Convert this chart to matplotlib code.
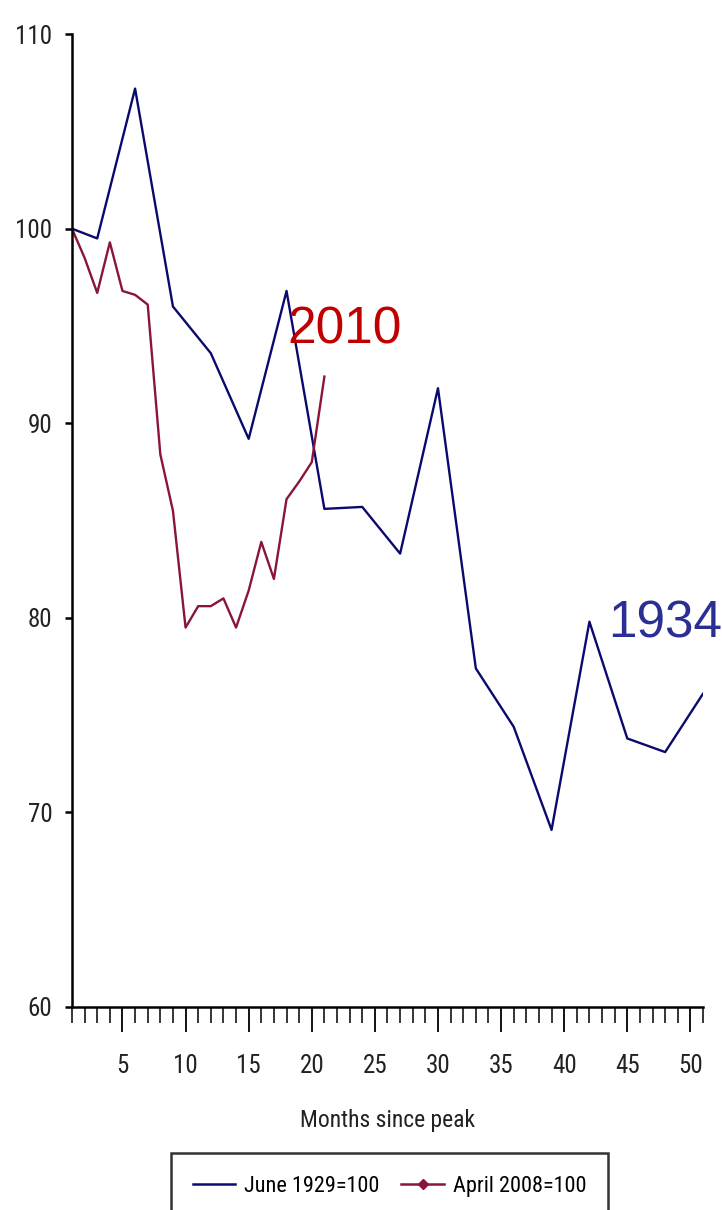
import numpy as np
import matplotlib
matplotlib.use('Agg')
import matplotlib.pyplot as plt
from matplotlib.lines import Line2D
from matplotlib.ticker import MultipleLocator

# Industrial output indexed to the peak month, 1929 vs 2008 downturns
# (the 1929 series is roughly quarterly)

months_1929 = [1, 3, 6, 9, 12, 15, 18, 21, 24, 27, 30, 33, 36, 39, 42, 45, 48, 51]
index_1929 = [100, 99.5, 107.2, 96.0, 93.6, 89.2, 96.8, 85.6, 85.7, 83.3, 91.8,
              77.4, 74.4, 69.1, 79.8, 73.8, 73.1, 76.1]

months_2008 = list(range(1, 22))
index_2008 = [100, 98.5, 96.7, 99.3, 96.8, 96.6, 96.1, 88.4, 85.5, 79.5, 80.6,
              80.6, 81.0, 79.5, 81.4, 83.9, 82.0, 86.1, 87.0, 88.0, 92.4]

label_1929 = "June 1929=100"
label_2008 = "April 2008=100"
x_ticks = [5, 10, 15, 20, 25, 30, 35, 40, 45, 50]
y_ticks = [60, 70, 80, 90, 100, 110]

blue = '#0a0a6e'
red = '#8a1538'

# narrow fonts if we have them, otherwise arial-like
narrow = ['Roboto Condensed', 'DejaVu Sans Condensed', 'Liberation Sans Narrow', 'Liberation Sans']

fig = plt.figure(figsize=(7.22, 12.10), dpi=100)
ax = fig.add_axes([0.0997, 0.1678, 0.874, 0.804])

ax.plot(months_1929, index_1929, color=blue, linewidth=1.7)
ax.plot(months_2008, index_2008, color=red, linewidth=1.7)

ax.set_xlim(1, 51)
ax.set_ylim(60, 110)

# only left and bottom axis lines, like the old excel chart
ax.spines['top'].set_visible(False)
ax.spines['right'].set_visible(False)
ax.spines['left'].set_linewidth(1.8)
ax.spines['bottom'].set_linewidth(1.8)

ax.set_xticks(x_ticks)
ax.xaxis.set_minor_locator(MultipleLocator(1))
ax.set_yticks(y_ticks)
ax.tick_params(axis='x', which='major', length=18, width=1.3, pad=16)
ax.tick_params(axis='x', which='minor', length=11.5, width=1.1)
ax.tick_params(axis='y', which='major', length=5, width=1.8, pad=9)
for lab in ax.get_xticklabels() + ax.get_yticklabels():
    lab.set_family(narrow)
    lab.set_fontsize(18)
    lab.set_color('#222222')

ax.set_xlabel("Months since peak", family=narrow, fontsize=17, color='#222222', labelpad=22)

# big year labels next to each line
ax.text(18.1, 94.1, "2010", color='#c00000', fontsize=37, family=['Liberation Sans'])
ax.text(43.5, 79.0, "1934", color='#2b2f93', fontsize=37, family=['Liberation Sans'])

# legend handles built by hand so the diamond only shows in the legend
handles = [Line2D([], [], color=blue, linewidth=1.8),
           Line2D([], [], color=red, linewidth=1.8, marker='D', markersize=5)]
leg = ax.legend(handles, [label_1929, label_2008], loc='upper center',
                bbox_to_anchor=(0.503, -0.139), ncol=2, frameon=True, fancybox=False,
                edgecolor='black', handlelength=1.9, handletextpad=0.4,
                columnspacing=1.0, borderpad=1.0, prop={'family': narrow, 'size': 16})
leg.get_frame().set_linewidth(1.8)

plt.savefig("out.png", dpi=100)
